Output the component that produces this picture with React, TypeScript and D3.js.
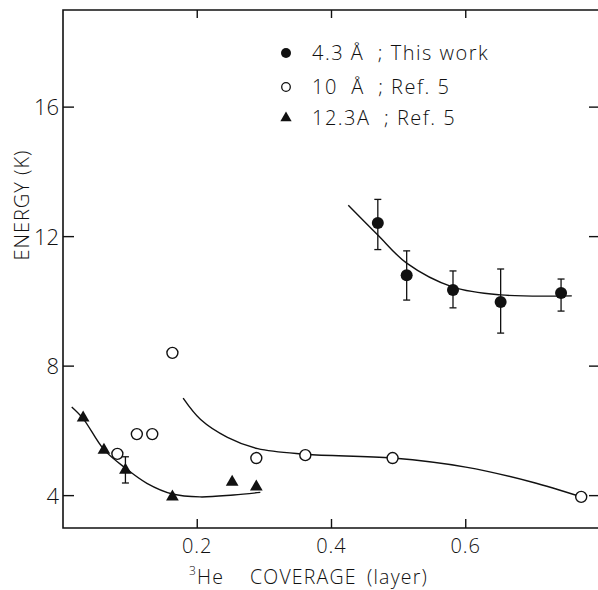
import React, { useRef, useEffect } from 'react';
import * as d3 from 'd3';

// 4.3 A ; This work (filled circles, with error bars)
const filledX = [0.469, 0.512, 0.581, 0.652, 0.742];
const filledY = [12.42, 10.81, 10.35, 9.98, 10.26];
const filledHi = [13.15, 11.56, 10.94, 11.0, 10.69];
const filledLo = [11.6, 10.04, 9.8, 9.02, 9.7];
const filledCurveX = [0.425, 0.469, 0.512, 0.581, 0.652, 0.758];
const filledCurveY = [12.97, 12.05, 11.18, 10.44, 10.2, 10.17];

// 10 A ; Ref. 5 (open circles)
const openX = [0.081, 0.11, 0.133, 0.163, 0.288, 0.361, 0.491, 0.772];
const openY = [5.29, 5.9, 5.9, 8.41, 5.16, 5.25, 5.16, 3.96];
const openCurveX = [0.179, 0.205, 0.245, 0.29, 0.361, 0.491, 0.6, 0.698, 0.772];
const openCurveY = [7.01, 6.35, 5.8, 5.45, 5.28, 5.16, 4.88, 4.42, 3.96];

// 12.3A ; Ref. 5 (triangles)
const triX = [0.03, 0.061, 0.093, 0.163, 0.252, 0.288];
const triY = [6.4, 5.41, 4.79, 3.96, 4.42, 4.27];
const triErrX = [0.093];
const triErrHi = [5.2];
const triErrLo = [4.39];
const triCurveX = [0.013, 0.03, 0.061, 0.093, 0.125, 0.163, 0.204, 0.254, 0.294];
const triCurveY = [6.74, 6.38, 5.42, 4.85, 4.38, 4.05, 3.96, 4.02, 4.1];

const xTicks = [0.2, 0.4, 0.6];
const yTicks = [4, 8, 12, 16];
const legendLabels = ['4.3 Å  ; This work', '10  Å  ; Ref. 5', '12.3A  ; Ref. 5'];

const FONT = "'Open Sans', 'Liberation Sans', sans-serif";

export default function App() {
  const svgRef = useRef<SVGSVGElement>(null);

  const w = 598,
    h = 590;

  useEffect(() => {
    const svg = d3.select(svgRef.current);
    svg.selectAll('*').remove();

    const xScale = d3.scaleLinear().domain([0, 0.8]).range([63, 600]);
    const yScale = d3.scaleLinear().domain([3, 19]).range([528, 10]);
    const x0 = xScale.range()[0];
    const [y0, y1] = yScale.range();

    const g = svg.append('g');

    // FRAME (right edge falls outside the picture)
    g.append('path')
      .attr('d', `M${w},${y1}H${x0}V${y0}H${w}`)
      .attr('fill', 'none')
      .attr('stroke', '#111')
      .attr('stroke-width', 1.6);

    // TICKS (inward on all sides)
    xTicks.forEach((t) => {
      g.append('line').attr('x1', xScale(t)).attr('x2', xScale(t)).attr('y1', y0).attr('y2', y0 - 9)
        .attr('stroke', '#111').attr('stroke-width', 1.4);
      g.append('line').attr('x1', xScale(t)).attr('x2', xScale(t)).attr('y1', y1).attr('y2', y1 + 8)
        .attr('stroke', '#111').attr('stroke-width', 1.4);
      g.append('text').attr('x', xScale(t)).attr('y', 553).attr('text-anchor', 'middle')
        .attr('font-size', 20).attr('font-family', FONT).attr('font-weight', 300).attr('fill', '#111')
        .attr('letter-spacing', 1)
        .text(String(t));
    });
    yTicks.forEach((t) => {
      g.append('line').attr('x1', x0).attr('x2', x0 + 11).attr('y1', yScale(t)).attr('y2', yScale(t))
        .attr('stroke', '#111').attr('stroke-width', 1.4);
      g.append('line').attr('x1', w).attr('x2', w - 9).attr('y1', yScale(t)).attr('y2', yScale(t))
        .attr('stroke', '#111').attr('stroke-width', 1.4);
      g.append('text').attr('x', x0 - 4).attr('y', yScale(t) + 8).attr('text-anchor', 'end')
        .attr('font-size', 22).attr('font-family', FONT).attr('font-weight', 300).attr('fill', '#111')
        .text(String(t));
    });

    // AXIS LABELS
    g.append('text')
      .attr('transform', 'translate(29,205) rotate(-90)')
      .attr('text-anchor', 'middle')
      .attr('font-size', 20).attr('font-family', FONT).attr('font-weight', 300).attr('fill', '#111')
      .attr('letter-spacing', 1)
      .text('ENERGY (K)');
    const xl = g.append('text')
      .attr('x', 189).attr('y', 584)
      .attr('font-size', 19.5).attr('font-family', FONT).attr('font-weight', 300).attr('fill', '#111')
      .attr('letter-spacing', 1.2);
    xl.append('tspan').attr('font-size', 12).attr('dy', -9).text('3');
    xl.append('tspan').attr('dy', 9).text('He');
    xl.append('tspan').attr('x', 250).text('COVERAGE');
    xl.append('tspan').attr('x', 367).text('(layer)');

    // CURVES
    const line = d3.line<[number, number]>()
      .x((d) => xScale(d[0]))
      .y((d) => yScale(d[1]))
      .curve(d3.curveCatmullRom.alpha(0.5));
    const curves = [
      d3.zip(filledCurveX, filledCurveY),
      d3.zip(openCurveX, openCurveY),
      d3.zip(triCurveX, triCurveY),
    ] as [number, number][][];
    curves.forEach((c) => {
      g.append('path').attr('d', line(c)).attr('fill', 'none').attr('stroke', '#111').attr('stroke-width', 1.4);
    });

    // ERROR BARS
    const errBar = (x: number, hi: number, lo: number) => {
      const cx = xScale(x);
      g.append('line').attr('x1', cx).attr('x2', cx).attr('y1', yScale(hi)).attr('y2', yScale(lo))
        .attr('stroke', '#111').attr('stroke-width', 1.3);
      [hi, lo].forEach((v) => {
        g.append('line').attr('x1', cx - 3.5).attr('x2', cx + 3.5).attr('y1', yScale(v)).attr('y2', yScale(v))
          .attr('stroke', '#111').attr('stroke-width', 1.3);
      });
    };
    filledX.forEach((x, i) => errBar(x, filledHi[i], filledLo[i]));
    triErrX.forEach((x, i) => errBar(x, triErrHi[i], triErrLo[i]));

    // POINTS
    const tri = d3.symbol().type(d3.symbolTriangle).size(70);
    g.selectAll('.open')
      .data(d3.zip(openX, openY))
      .enter()
      .append('circle')
      .attr('cx', (d) => xScale(d[0]))
      .attr('cy', (d) => yScale(d[1]))
      .attr('r', 5.5)
      .attr('fill', '#fff')
      .attr('stroke', '#111')
      .attr('stroke-width', 1.4);
    g.selectAll('.tri')
      .data(d3.zip(triX, triY))
      .enter()
      .append('path')
      .attr('d', tri)
      .attr('transform', (d) => `translate(${xScale(d[0])},${yScale(d[1])})`)
      .attr('fill', '#111');
    g.selectAll('.filled')
      .data(d3.zip(filledX, filledY))
      .enter()
      .append('circle')
      .attr('cx', (d) => xScale(d[0]))
      .attr('cy', (d) => yScale(d[1]))
      .attr('r', 6)
      .attr('fill', '#111');

    // LEGEND
    const lg = g.append('g').attr('transform', 'translate(286,0)');
    const rows = [53, 87, 118];
    lg.append('circle').attr('cx', 0).attr('cy', rows[0]).attr('r', 5).attr('fill', '#111');
    lg.append('circle').attr('cx', 0).attr('cy', rows[1]).attr('r', 4.3).attr('fill', '#fff')
      .attr('stroke', '#111').attr('stroke-width', 1.3);
    lg.append('path').attr('d', d3.symbol().type(d3.symbolTriangle).size(55)).attr('transform', `translate(0,${rows[2]})`)
      .attr('fill', '#111');
    legendLabels.forEach((t, i) => {
      lg.append('text').attr('x', 26).attr('y', rows[i] + 7)
        .attr('font-size', 20).attr('font-family', FONT).attr('font-weight', 300).attr('fill', '#111')
        .attr('letter-spacing', 1.5)
        .style('white-space', 'pre')
        .text(t);
    });
  }, []);

  return (
    <div>
      <svg ref={svgRef} width={w} height={h} style={{ position: 'absolute', left: 0, top: 0, background: '#fff' }} />
    </div>
  );
}
